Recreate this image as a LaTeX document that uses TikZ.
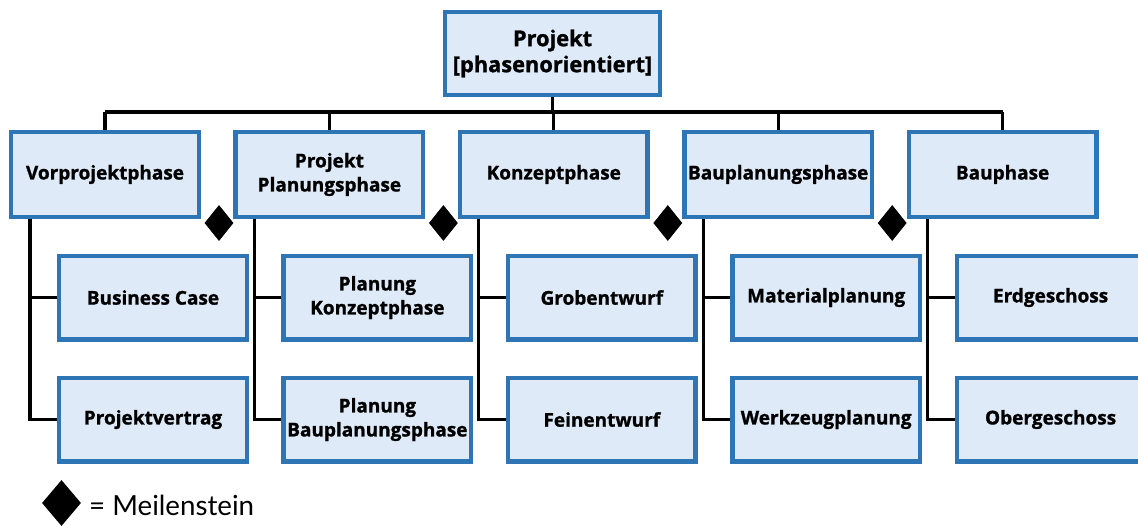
\documentclass[tikz,border=0pt]{standalone}
\usepackage{fontspec}
\setmainfont{Open Sans}[BoldFeatures={FakeBold=1.2}]
\newfontfamily\legendfont{Lato}
\usetikzlibrary{shapes.geometric,backgrounds}

\definecolor{boxblue}{HTML}{2E75B6}
\definecolor{boxfill}{HTML}{DEEAF7}

\begin{document}
\begin{tikzpicture}[x=1pt,y=-1pt,
  box/.style={draw=boxblue, fill=boxfill, line width=4.4pt,
    minimum width=187.6pt, minimum height=84.6pt, inner sep=0pt,
    align=center, font=\fontsize{19}{24}\selectfont\bfseries},
  topbox/.style={box, minimum width=214.6pt, minimum height=82.6pt,
    font=\fontsize{21.8}{26}\selectfont\bfseries},
  subbox/.style={box, minimum height=83.6pt},
  conn/.style={draw=black, line width=3.2pt},
  milestone/.style={diamond, fill=black, inner sep=0pt,
    minimum width=29pt, minimum height=36pt}]

\useasboundingbox (0,0) rectangle (1138,527);
\clip (0,0) rectangle (1138,527);

% root
\node[topbox] (top) at (552.5,53.5) {Projekt\\{}[phasenorientiert]};

% phases
\node[box] (p1) at (105,174.5)   {Vorprojektphase};
\node[box] (p2) at (329.4,174.5) {Projekt\\Planungsphase};
\node[box] (p3) at (553.8,174.5) {Konzeptphase};
\node[box] (p4) at (778.2,174.5) {Bauplanungsphase};
\node[box] (p5) at (1002.6,174.5) {Bauphase};

% work packages
\node[subbox] (a1) at (153,297.5)   {Business Case};
\node[subbox] (a2) at (153,419.5)   {Projektvertrag};
\node[subbox] (b1) at (377.4,297.5) {Planung\\Konzeptphase};
\node[subbox] (b2) at (377.4,419.5) {Planung\\Bauplanungsphase};
\node[subbox] (c1) at (601.8,297.5) {Grobentwurf};
\node[subbox] (c2) at (601.8,419.5) {Feinentwurf};
\node[subbox] (d1) at (826.2,297.5) {Materialplanung};
\node[subbox] (d2) at (826.2,419.5) {Werkzeugplanung};
\node[subbox] (e1) at (1050.6,297.5) {Erdgeschoss};
\node[subbox] (e2) at (1050.6,419.5) {Obergeschoss};

% milestones between phases
\foreach \p/\m in {p1/m1,p2/m2,p3/m3,p4/m4}
  \node[milestone] (\m) at ([xshift=18pt,yshift=-4pt]\p.south east) {};

% legend
\node[milestone, minimum width=39pt, minimum height=46pt] (leg) at (61.5,503) {};
\node[anchor=base west, inner sep=0pt, font=\legendfont\fontsize{27.7}{30}\selectfont]
  (legtext) at (89,515) {= Meilenstein};

% connectors
\coordinate (bar) at (0,112);
\begin{pgfonlayer}{background}
  \draw[conn] (top.south) -- (top.south |- bar);
  \draw[conn] (p1.north |- bar) -- (p5.north |- bar);
  \foreach \p in {p1,p2,p3,p4,p5}
    \draw[conn] (\p.north) -- (\p.north |- bar);
  \foreach \p/\u/\v in {p1/a1/a2, p2/b1/b2, p3/c1/c2, p4/d1/d2, p5/e1/e2} {
    \draw[conn] ([xshift=-75pt]\p.south) |- (\v.west);
    \draw[conn] ([xshift=-75pt]\p.south |- \u.west) -- (\u.west);
  }
\end{pgfonlayer}
\end{tikzpicture}
\end{document}
